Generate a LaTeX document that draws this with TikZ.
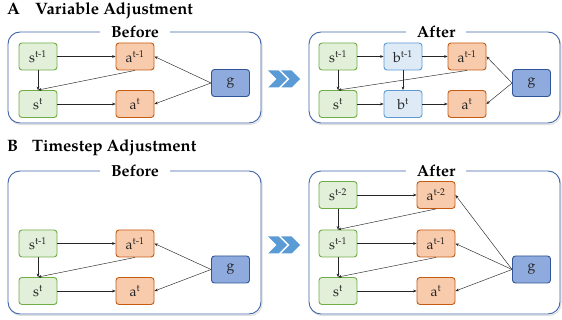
\documentclass[tikz,border=0pt]{standalone}
\usepackage{fontspec}
\setmainfont{TeX Gyre Pagella}
\usetikzlibrary{arrows.meta}
\definecolor{sgr}{HTML}{70AD47}
\definecolor{sgrf}{HTML}{E2F0D9}
\definecolor{aor}{HTML}{C55A11}
\definecolor{aorf}{HTML}{F8CBAD}
\definecolor{bbl}{HTML}{5B9BD5}
\definecolor{bblf}{HTML}{DEEBF7}
\definecolor{gbl}{HTML}{2F5597}
\definecolor{gblf}{HTML}{8FAADC}
\definecolor{pnl}{HTML}{3F65A8}
\definecolor{chev}{HTML}{5B9BD5}
\tikzset{
  nd/.style={rounded corners=3pt, minimum width=38pt, minimum height=27pt, line width=0.9pt, inner sep=0pt, font=\fontsize{14}{16}\selectfont, text=black!85},
  sn/.style={nd, draw=sgr, fill=sgrf},
  an/.style={nd, draw=aor, fill=aorf},
  bn/.style={nd, draw=bbl, fill=bblf},
  gn/.style={nd, draw=gbl, fill=gblf},
  arr/.style={-{Stealth[length=3.5pt,width=2.8pt]}, line width=0.45pt, draw=black!85},
  panel/.style={draw=pnl, line width=0.9pt, rounded corners=12pt, fill=white},
  shad/.style={draw=black!12, line width=1.2pt, rounded corners=12pt},
  lbl/.style={fill=white, inner xsep=11pt, inner ysep=1pt, font=\fontsize{16}{18}\selectfont\bfseries, anchor=base},
  ttl/.style={anchor=base west, inner sep=0pt, font=\fontsize{16.5}{18}\selectfont\bfseries},
  chevf/.style={fill=chev}
}
\newcommand{\chevron}[2]{%
  \fill[chevf] (#1,#2-8.5) -- ++(10.5,0) -- ++(8.5,8.5) -- ++(-8.5,8.5) -- ++(-10.5,0) -- ++(8.5,-8.5) -- cycle;
  \fill[chevf] (#1+13,#2-8.5) -- ++(10.5,0) -- ++(8.5,8.5) -- ++(-8.5,8.5) -- ++(-10.5,0) -- ++(8.5,-8.5) -- cycle;}
\begin{document}
\begin{tikzpicture}[x=1pt,y=-1pt]
\useasboundingbox (0,0) rectangle (562,320);
% titles
\node[ttl] (tA) at (7,15) {A};
\node[ttl] (tAt) at (35,15) {Variable Adjustment};
\node[ttl] (tB) at (7,152) {B};
\node[ttl] (tBt) at (32,152) {Timestep Adjustment};
% panels
\draw[shad] (9,33.5) rectangle (262,124.5);
\draw[panel] (8,32) rectangle (261,123);
\draw[shad] (310,33.5) rectangle (561,124.5);
\draw[panel] (309,32) rectangle (560,123);
\draw[shad] (9,172.5) rectangle (262,315.5);
\draw[panel] (8,171) rectangle (261,314);
\draw[shad] (310,172.5) rectangle (561,315.5);
\draw[panel] (309,171) rectangle (560,314);
\node[lbl] (lA1) at (135,37.5) {Before};
\node[lbl] (lA2) at (436,37.5) {After};
\node[lbl] (lB1) at (135,176.5) {Before};
\node[lbl] (lB2) at (436,176.5) {After};
% chevrons
\chevron{268}{79}
\chevron{268}{245}
% ---- A before
\node[sn] (a1s1) at (38,56.5) {s\textsuperscript{t-1}};
\node[an] (a1a1) at (135,56.5) {a\textsuperscript{t-1}};
\node[sn] (a1s0) at (38,104) {s\textsuperscript{t}};
\node[an] (a1a0) at (135,104) {a\textsuperscript{t}};
\node[gn] (a1g) at (230.5,83) {g};
\draw[arr] (a1s1) -- (a1a1);
\draw[arr] (a1s1) -- (a1s0);
\draw[arr] (a1a1.south) -- (a1s0.north);
\draw[arr] (a1s0) -- (a1a0);
\draw[arr] (a1g.west) -- (a1a1.east);
\draw[arr] (a1g.west) -- (a1a0.east);
% ---- A after
\node[sn] (a2s1) at (338,56.5) {s\textsuperscript{t-1}};
\node[bn] (a2b1) at (403,56.5) {b\textsuperscript{t-1}};
\node[an] (a2a1) at (467,56.5) {a\textsuperscript{t-1}};
\node[sn] (a2s0) at (338,104) {s\textsuperscript{t}};
\node[bn] (a2b0) at (403,104) {b\textsuperscript{t}};
\node[an] (a2a0) at (467,104) {a\textsuperscript{t}};
\node[gn] (a2g) at (531.5,83) {g};
\draw[arr] (a2s1) -- (a2b1);
\draw[arr] (a2b1) -- (a2a1);
\draw[arr] (a2s1) -- (a2s0);
\draw[arr] (a2b1) -- (a2b0);
\draw[arr] (a2a1.south) -- (a2s0.north);
\draw[arr] (a2s0) -- (a2b0);
\draw[arr] (a2b0) -- (a2a0);
\draw[arr] (a2g.west) -- (a2a1.east);
\draw[arr] (a2g.west) -- (a2a0.east);
% ---- B before
\node[sn] (b1s1) at (38,243.5) {s\textsuperscript{t-1}};
\node[an] (b1a1) at (135,243.5) {a\textsuperscript{t-1}};
\node[sn] (b1s0) at (38,291) {s\textsuperscript{t}};
\node[an] (b1a0) at (135,291) {a\textsuperscript{t}};
\node[gn] (b1g) at (230.5,269.5) {g};
\draw[arr] (b1s1) -- (b1a1);
\draw[arr] (b1s1) -- (b1s0);
\draw[arr] (b1a1.south) -- (b1s0.north);
\draw[arr] (b1s0) -- (b1a0);
\draw[arr] (b1g.west) -- (b1a1.east);
\draw[arr] (b1g.west) -- (b1a0.east);
% ---- B after
\node[sn] (b2s2) at (338,195) {s\textsuperscript{t-2}};
\node[an] (b2a2) at (436,195) {a\textsuperscript{t-2}};
\node[sn] (b2s1) at (338,243.5) {s\textsuperscript{t-1}};
\node[an] (b2a1) at (436,243.5) {a\textsuperscript{t-1}};
\node[sn] (b2s0) at (338,291) {s\textsuperscript{t}};
\node[an] (b2a0) at (436,291) {a\textsuperscript{t}};
\node[gn] (b2g) at (531.5,269.5) {g};
\draw[arr] (b2s2) -- (b2a2);
\draw[arr] (b2s2) -- (b2s1);
\draw[arr] (b2a2.south) -- (b2s1.north);
\draw[arr] (b2s1) -- (b2a1);
\draw[arr] (b2s1) -- (b2s0);
\draw[arr] (b2a1.south) -- (b2s0.north);
\draw[arr] (b2s0) -- (b2a0);
\draw[arr] (b2g.west) -- (b2a2.east);
\draw[arr] (b2g.west) -- (b2a1.east);
\draw[arr] (b2g.west) -- (b2a0.east);
\end{tikzpicture}
\end{document}
